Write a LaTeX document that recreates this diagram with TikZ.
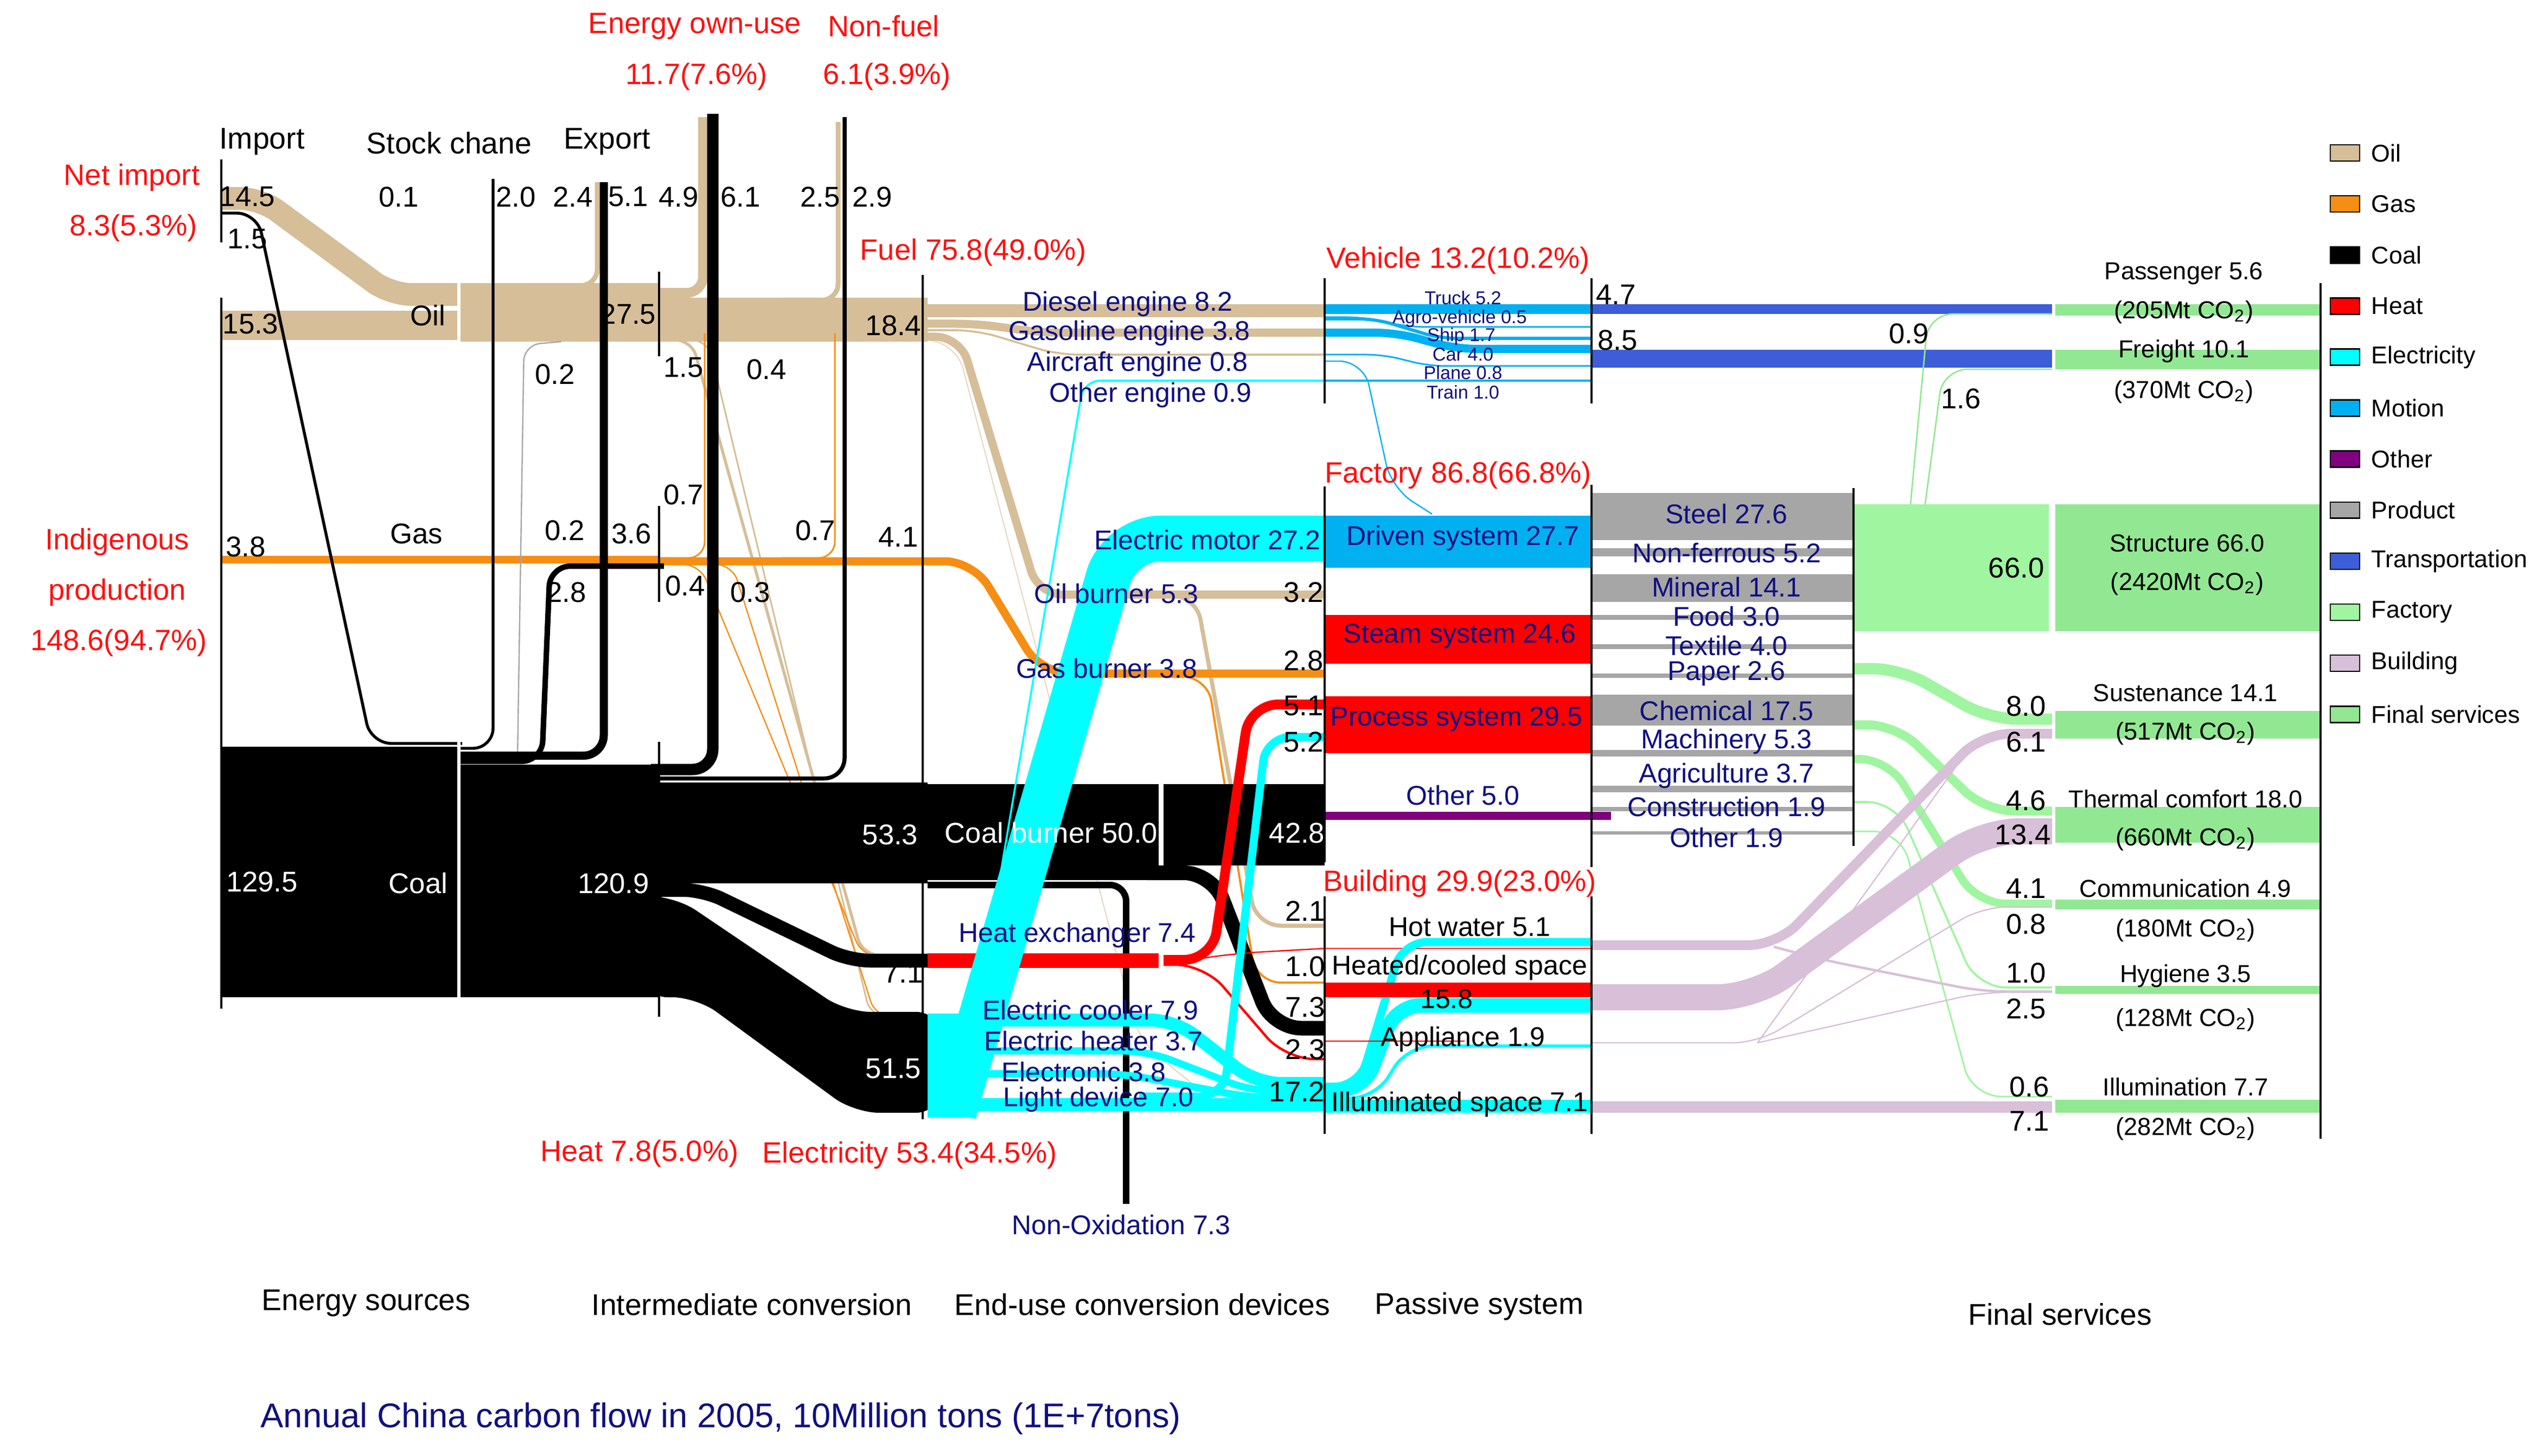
\documentclass[tikz,border=0pt]{standalone}
\usepackage{fontspec}
\setmainfont{Liberation Sans}
\usepackage{xcolor}
\usepackage{tikz}
\usetikzlibrary{positioning}
\definecolor{oilc}{RGB}{214,190,152}
\definecolor{gasc}{RGB}{246,142,20}
\definecolor{heatc}{RGB}{255,0,0}
\definecolor{elecc}{RGB}{0,255,255}
\definecolor{motionc}{RGB}{0,176,240}
\definecolor{otherc}{RGB}{128,0,128}
\definecolor{prodc}{RGB}{166,166,166}
\definecolor{transc}{RGB}{61,94,216}
\definecolor{factc}{RGB}{160,245,160}
\definecolor{buildc}{RGB}{216,192,216}
\definecolor{servc}{RGB}{146,232,146}
\definecolor{navyc}{RGB}{16,16,128}
\definecolor{redc}{RGB}{255,16,16}
\tikzstyle{lab} = [font=\fontsize{10}{12}\selectfont, inner sep=0pt]
\tikzstyle{head} = [font=\fontsize{10.3}{12}\selectfont, inner sep=0pt, text=redc]
\tikzstyle{dev} = [font=\fontsize{9.5}{11}\selectfont, inner sep=0pt, text=navyc]
\tikzstyle{vlab} = [font=\fontsize{6.5}{7}\selectfont, inner sep=0pt, text=navyc]
\tikzstyle{serv} = [font=\fontsize{8.6}{10}\selectfont, inner sep=0pt]
\tikzstyle{stage} = [font=\fontsize{10.5}{12}\selectfont, inner sep=0pt]
\tikzstyle{legtext} = [font=\fontsize{8.5}{10}\selectfont, inner sep=0pt, anchor=west]
\tikzstyle{swatch} = [draw=black, line width=0.5pt, minimum width=0.36cm, minimum height=0.2cm, inner sep=0pt]
\tikzstyle{colline} = [line width=0.75pt]
\tikzset{band/.style={line width=#1*0.02cm}}
\begin{document}
\begin{tikzpicture}[x=0.02cm, y=-0.02cm]
\useasboundingbox (0,0) rectangle (1559,895);
\fill[white] (0,0) rectangle (1559,895);
% oil
\draw[oilc, band=14, rounded corners=0.25cm] (136,122) -- (160,122) -- (240,181) -- (284,181);
\fill[oilc] (136,191) rectangle (282,209);
\fill[oilc] (282,174) rectangle (405,210);
\draw[oilc, band=3, rounded corners=0.2cm] (330,175.5) -- (367,175.5) -- (367,112);
\draw[oilc, band=6, rounded corners=0.2cm] (400,180) -- (432,180) -- (432,72);
\fill[oilc] (405,183) rectangle (570,210);
\draw[oilc, band=3, rounded corners=0.2cm] (480,184.5) -- (515,184.5) -- (515,75);
\draw[oilc, band=1.8, rounded corners=0.2cm] (405,209) -- (425,209) -- (530,587) -- (570,587);
\draw[oilc, band=1, rounded corners=0.2cm] (415,209) -- (435,209) -- (535,625) -- (570,625);
\fill[oilc] (570,187) rectangle (814,195);
\draw[oilc, band=5, rounded corners=0.25cm] (568,199) -- (600,199) -- (640,204.5) -- (814,204.5);
\draw[oilc, band=1.2, rounded corners=0.25cm] (568,203) -- (600,203) -- (650,218) -- (814,218);
\draw[oilc!60, band=0.7, rounded corners=0.3cm] (570,209) -- (588,212) -- (700,640) -- (735,668);
\draw[oilc, band=5, rounded corners=0.3cm] (566,207) -- (590,207) -- (638,365.5) -- (814,365.5);
\draw[oilc, band=2.5, rounded corners=0.3cm] (690,366) -- (735,366) -- (772,569) -- (814,569);
% gas
\draw[gasc, band=4.5] (136,344) -- (405,344);
\draw[gasc, band=1, rounded corners=0.2cm] (405,343) -- (433,343) -- (433,205);
\draw[gasc, band=1, rounded corners=0.2cm] (480,343) -- (513,343) -- (513,205);
\draw[gasc, band=5, rounded corners=0.35cm] (405,345) -- (598,345) -- (640,414) -- (814,414);
\draw[gasc, band=1.3, rounded corners=0.3cm] (715,416) -- (742,416) -- (772,604) -- (814,604);
\draw[gasc, band=0.8, rounded corners=0.2cm] (405,347) -- (430,347) -- (530,588) -- (570,588);
\draw[gasc, band=0.8, rounded corners=0.2cm] (430,347) -- (450,347) -- (538,625) -- (570,625);
% coal
\draw[black!35, band=0.8, rounded corners=0.2cm] (345,210) -- (322,212) -- (318,466);
\draw[band=1.8, rounded corners=0.25cm] (136,131) -- (158,131) -- (228,457) -- (284,457);
\draw[band=1.8, rounded corners=0.25cm] (280,460) -- (303,460) -- (303,110);
\draw[band=5, rounded corners=0.25cm] (280,464.5) -- (371,464.5) -- (371,112);
\draw[band=3.4, rounded corners=0.25cm] (280,468) -- (333,468) -- (338,348) -- (408,348);
\draw[band=7, rounded corners=0.25cm] (400,473) -- (438,473) -- (438,70);
\draw[band=2.5, rounded corners=0.25cm] (400,478.5) -- (519,478.5) -- (519,72);
\fill (136,459) rectangle (282,613);
\fill (282,470) rectangle (405,613);
\fill (405,481) rectangle (570,543);
\draw[band=8.5, rounded corners=0.25cm] (398,547) -- (432,547) -- (522,590.5) -- (574,590.5);
\fill[rounded corners=0.3cm] (395,551) -- (415,551) -- (520,622) -- (578,622) -- (578,684) -- (525,684) -- (428,613) -- (395,613) -- cycle;
\fill[elecc] (570,623) rectangle (600,687);
\fill (570,482) rectangle (712,541);
\fill (715,482) rectangle (814,532);
\draw[band=9, rounded corners=0.35cm] (705,536.5) -- (745,536.5) -- (782,632) -- (814,632);
\draw[band=4, rounded corners=0.2cm] (570,544) -- (692,544) -- (692,740);
% heat
\fill[heatc] (570,586) rectangle (712,595);
\draw[heatc, band=6, rounded corners=0.35cm] (715,590) -- (745,590) -- (768,433) -- (814,433);
\draw[heatc, band=1.5, rounded corners=0.35cm] (715,593) -- (740,593) -- (790,651) -- (814,651);
\draw[heatc, band=0.8, rounded corners=0.3cm] (725,591) -- (760,586) -- (814,583);
% electricity
\draw[elecc, band=28, rounded corners=0.5cm] (586,684) -- (688,331) -- (814,331);
\draw[elecc, band=1.2, rounded corners=0.2cm] (600,625) -- (666,234) -- (814,234);
\draw[elecc, band=8, rounded corners=0.3cm] (598,627) -- (722,627) -- (772,666) -- (814,666);
\draw[elecc, band=4.4, rounded corners=0.3cm] (598,646) -- (705,646) -- (770,671) -- (814,671);
\draw[elecc, band=4.5, rounded corners=0.3cm] (598,660) -- (690,660) -- (770,675) -- (814,675);
\fill[elecc] (598,675) rectangle (814,683);
\draw[elecc, band=5, rounded corners=0.3cm] (700,674) -- (752,674) -- (778,453) -- (814,453);
% vehicle
\fill[motionc] (814,187) rectangle (978,193);
\draw[motionc, band=1, rounded corners=0.2cm] (814,195) -- (838,195) -- (866,201) -- (978,201);
\draw[motionc, band=2, rounded corners=0.2cm] (814,196) -- (845,196) -- (885,208) -- (978,208);
\draw[motionc, band=5, rounded corners=0.25cm] (814,204.5) -- (858,204.5) -- (895,214.5) -- (978,214.5);
\draw[motionc, band=1, rounded corners=0.2cm] (814,218) -- (850,218) -- (878,225) -- (978,225);
\draw[motionc, band=1.2] (814,234) -- (978,234);
\draw[motionc, band=0.8, rounded corners=0.3cm] (814,222) -- (838,222) -- (855,300) -- (880,316);
\fill[transc] (978,187) rectangle (1261,193);
\fill[transc] (978,215) rectangle (1261,226);
\fill[servc] (1263,187) rectangle (1426,194);
\fill[servc] (1263,215) rectangle (1426,227);
% factory
\fill[motionc] (814,317) rectangle (978,349);
\fill[heatc] (814,378) rectangle (978,408);
\fill[heatc] (814,428) rectangle (978,463);
\fill[otherc] (814,499) rectangle (990,504);
\fill[prodc] (978,303) rectangle (1139,332);
\fill[prodc] (978,337) rectangle (1139,342);
\fill[prodc] (978,353) rectangle (1139,370);
\fill[prodc] (978,378) rectangle (1139,381);
\fill[prodc] (978,396) rectangle (1139,399);
\fill[prodc] (978,414) rectangle (1139,416.5);
\fill[prodc] (978,427) rectangle (1139,446);
\fill[prodc] (978,461) rectangle (1139,465);
\fill[prodc] (978,483) rectangle (1139,487);
\fill[prodc] (978,496) rectangle (1139,498.5);
\fill[prodc] (978,511) rectangle (1139,513);
\fill[factc] (1139,310) rectangle (1259,388);
\fill[servc] (1263,310) rectangle (1426,388);
\draw[servc, band=0.9, rounded corners=0.3cm] (1174,310) -- (1185,193) -- (1261,193);
\draw[servc, band=0.9, rounded corners=0.3cm] (1183,310) -- (1194,227) -- (1261,227);
\draw[factc, band=7, rounded corners=0.35cm] (1139,411) -- (1168,411) -- (1222,442) -- (1261,442);
\draw[factc, band=5.5, rounded corners=0.35cm] (1139,445.5) -- (1165,445.5) -- (1220,498.5) -- (1261,498.5);
\draw[factc, band=5, rounded corners=0.35cm] (1139,466.5) -- (1160,466.5) -- (1215,555.5) -- (1261,555.5);
\draw[factc, band=1.2, rounded corners=0.35cm] (1139,493) -- (1165,493) -- (1215,607) -- (1261,607);
\draw[factc, band=1, rounded corners=0.35cm] (1139,511) -- (1168,511) -- (1212,674) -- (1261,674);
% building
\draw[heatc, band=0.8] (814,583) -- (978,583);
\draw[elecc, band=5, rounded corners=0.3cm] (814,668) -- (835,668) -- (862,579) -- (978,579);
\fill[heatc] (814,604) rectangle (978,613);
\draw[elecc, band=9, rounded corners=0.3cm] (814,670) -- (838,670) -- (858,618) -- (978,618);
\draw[heatc, band=0.8] (814,640) -- (900,640);
\draw[elecc, band=2, rounded corners=0.3cm] (814,675) -- (845,675) -- (865,643) -- (978,643);
\fill[elecc] (814,676) rectangle (978,684);
\draw[buildc, band=6, rounded corners=0.35cm] (978,581) -- (1092,581) -- (1218,451) -- (1261,451);
\draw[buildc, band=1.5, rounded corners=0.3cm] (1090,582) -- (1120,590) -- (1218,609.5) -- (1261,609.5);
\draw[buildc, band=16, rounded corners=0.45cm] (978,613) -- (1078,613) -- (1218,511) -- (1261,511);
\draw[buildc, band=0.8, rounded corners=0.3cm] (978,641) -- (1080,641) -- (1218,557.5) -- (1261,557.5);
\draw[buildc, band=0.8, rounded corners=0.3cm] (1080,641) -- (1218,449) -- (1261,449);
\draw[buildc, band=0.8, rounded corners=0.3cm] (1080,641) -- (1218,610) -- (1261,610);
\fill[buildc] (978,677) rectangle (1261,684);
\fill[servc] (1263,437) rectangle (1426,454);
\fill[servc] (1263,496) rectangle (1426,518);
\fill[servc] (1263,553) rectangle (1426,559);
\fill[servc] (1263,606) rectangle (1426,611);
\fill[servc] (1263,676) rectangle (1426,684);
% columns
\draw[white, line width=1pt] (282,170) -- (282,214);
\draw[white, line width=1pt] (282,455) -- (282,616);
\draw[colline] (136,98) -- (136,149);
\draw[colline] (136,183) -- (136,620);
\draw[colline] (405,167) -- (405,219);
\draw[colline] (405,311) -- (405,370);
\draw[colline] (405,456) -- (405,625);
\draw[colline] (567,169) -- (567,688);
\draw[colline] (814,171) -- (814,248);
\draw[colline] (978,171) -- (978,248);
\draw[colline] (814,299) -- (814,530);
\draw[colline] (978,298) -- (978,533);
\draw[colline] (814,551) -- (814,697);
\draw[colline] (978,551) -- (978,697);
\draw[colline] (1139,300) -- (1139,520);
\draw[colline] (1426,174) -- (1426,700);
% labels
\node (Net import)[head] at (81,109) {Net import};
\node (Net import share)[head] at (82,140) {8.3(5.3\%)};
\node (Indigenous)[head] at (72,333) {Indigenous};
\node (Production)[head] at (72,364) {production};
\node (Production share)[head] at (73,395) {148.6(94.7\%)};
\node (Energy own-use)[head] at (427,16) {Energy own-use};
\node (Own-use share)[head] at (428,47) {11.7(7.6\%)};
\node (Non-fuel)[head] at (543,16) {Non-fuel};
\node (Non-fuel share)[head] at (545,47) {6.1(3.9\%)};
\node (Fuel)[head] at (598,155) {Fuel 75.8(49.0\%)};
\node (Heat)[head] at (393,709) {Heat 7.8(5.0\%)};
\node (Electricity)[head] at (559,710) {Electricity 53.4(34.5\%)};
\node (Vehicle)[head] at (896,160) {Vehicle 13.2(10.2\%)};
\node (Factory)[head] at (896,292) {Factory 86.8(66.8\%)};
\node (Building)[head] at (897,543) {Building 29.9(23.0\%)};
\node (Import)[stage] at (161,87) {Import};
\node (Stock change)[stage] at (276,88) {Stock chane};
\node (Export)[stage] at (373,87) {Export};
\node (Import Oil)[lab] at (152,121) {14.5};
\node (Import Coal)[lab] at (152,147) {1.5};
\node (Home Oil)[lab] at (154,199) {15.3};
\node (Oil Stock)[lab] at (245,121) {0.1};
\node (Oil)[lab] at (263,194) {Oil};
\node (Coal Stock)[lab] at (317,121) {2.0};
\node (Oil Export)[lab] at (352,121) {2.4};
\node (Coal Export)[lab] at (386,121) {5.1};
\node (Oil Own)[lab] at (417,121) {4.9};
\node (Coal Own)[lab] at (455,121) {6.1};
\node (Oil Nonfuel)[lab] at (504,121) {2.5};
\node (Coal Nonfuel)[lab] at (536,121) {2.9};
\node (Oil Mid)[lab] at (386,193) {27.5};
\node (Oil Fuel)[lab] at (549,200) {18.4};
\node (Oil To Coal)[lab] at (341,230) {0.2};
\node (Oil To Heat)[lab] at (420,226) {1.5};
\node (Oil To Elec)[lab] at (471,227) {0.4};
\node (Gas Own)[lab] at (420,304) {0.7};
\node (Gas)[lab] at (256,328) {Gas};
\node (Home Gas)[lab] at (151,336) {3.8};
\node (Gas Stock)[lab] at (347,326) {0.2};
\node (Gas Mid)[lab] at (388,328) {3.6};
\node (Gas Nonfuel)[lab] at (501,326) {0.7};
\node (Gas Fuel)[lab] at (552,330) {4.1};
\node (Coal To Gas)[lab] at (348,364) {2.8};
\node (Gas To Heat)[lab] at (421,360) {0.4};
\node (Gas To Elec)[lab] at (461,364) {0.3};
\node (Home Coal)[lab, text=white] at (161,542) {129.5};
\node (Coal)[lab, text=white] at (257,543) {Coal};
\node (Coal Mid)[lab, text=white] at (377,543) {120.9};
\node (Coal Fuel)[lab, text=white] at (547,513) {53.3};
\node (Coal To Heat)[lab] at (555,598) {7.1};
\node (Coal To Elec)[lab, text=white] at (549,657) {51.5};
\node (Coal burner)[lab, text=white] at (646,512) {Coal burner 50.0};
\node (Coal Factory)[lab, text=white] at (797,512) {42.8};
\node (Diesel engine)[dev] at (693,187) {Diesel engine 8.2};
\node (Gasoline engine)[dev] at (694,205) {Gasoline engine 3.8};
\node (Aircraft engine)[dev] at (699,224) {Aircraft engine 0.8};
\node (Other engine)[dev] at (707,243) {Other engine 0.9};
\node (Electric motor)[dev] at (742,332) {Electric motor 27.2};
\node (Oil burner)[dev] at (686,365) {Oil burner 5.3};
\node (Gas burner)[dev] at (680,411) {Gas burner 3.8};
\node (Heat exchanger)[dev] at (662,575) {Heat exchanger 7.4};
\node (Electric cooler)[dev] at (670,621) {Electric cooler 7.9};
\node (Electric heater)[dev] at (672,640) {Electric heater 3.7};
\node (Electronic)[dev] at (666,659) {Electronic 3.8};
\node (Light device)[dev] at (675,676) {Light device 7.0};
\node (Non-Oxidation)[dev] at (689,753) {Non-Oxidation 7.3};
\node (Oil Factory)[lab] at (801,364) {3.2};
\node (Gas Factory)[lab] at (801,406) {2.8};
\node (Heat Factory)[lab] at (801,434) {5.1};
\node (Elec Factory)[lab] at (801,456) {5.2};
\node (Oil Building)[lab] at (802,560) {2.1};
\node (Gas Building)[lab] at (802,594) {1.0};
\node (Coal Building)[lab] at (802,619) {7.3};
\node (Heat Building)[lab] at (802,645) {2.3};
\node (Elec Building)[lab] at (797,671) {17.2};
\node (Truck)[vlab] at (899,183) {Truck 5.2};
\node (Agro-vehicle)[vlab] at (897,196) {Agro-vehicle 0.5};
\node (Ship)[vlab] at (898,207) {Ship 1.7};
\node (Car)[vlab] at (899,218) {Car 4.0};
\node (Plane)[vlab] at (899,229) {Plane 0.8};
\node (Train)[vlab] at (899,241) {Train 1.0};
\node (Passenger Flow)[lab] at (993,181) {4.7};
\node (Freight Flow)[lab] at (994,209) {8.5};
\node (Passenger Factory)[lab] at (1173,205) {0.9};
\node (Freight Factory)[lab] at (1205,245) {1.6};
\node (Driven system)[dev] at (899,331) {Driven system 27.7};
\node (Steam system)[dev] at (897,391) {Steam system 24.6};
\node (Process system)[dev] at (895,442) {Process system 29.5};
\node (Other system)[dev] at (899,489) {Other 5.0};
\node (Hot water)[dev, text=black] at (903,570) {Hot water 5.1};
\node (Heated space)[dev, text=black] at (897,595) {Heated/cooled space};
\node (Heated value)[dev, text=black] at (889,614) {15.8};
\node (Appliance)[dev, text=black] at (899,639) {Appliance 1.9};
\node (Illuminated space)[dev, text=black] at (897,679) {Illuminated space 7.1};
\node (Steel)[dev] at (1061,316) {Steel 27.6};
\node (Non-ferrous)[dev] at (1061,340) {Non-ferrous 5.2};
\node (Mineral)[dev] at (1061,361) {Mineral 14.1};
\node (Food)[dev] at (1061,379) {Food 3.0};
\node (Textile)[dev] at (1061,397) {Textile 4.0};
\node (Paper)[dev] at (1061,414) {Paper 2.6};
\node (Chemical)[dev] at (1061,437) {Chemical 17.5};
\node (Machinery)[dev] at (1061,456) {Machinery 5.3};
\node (Agriculture)[dev] at (1061,477) {Agriculture 3.7};
\node (Construction)[dev] at (1061,496) {Construction 1.9};
\node (Other product)[dev] at (1061,515) {Other 1.9};
\node (Structure Flow)[lab] at (1239,349) {66.0};
\node (Sustenance Factory)[lab] at (1245,434) {8.0};
\node (Sustenance Building)[lab] at (1245,456) {6.1};
\node (Thermal Factory)[lab] at (1245,492) {4.6};
\node (Thermal Building)[lab] at (1243,513) {13.4};
\node (Communication Factory)[lab] at (1245,546) {4.1};
\node (Communication Building)[lab] at (1245,568) {0.8};
\node (Hygiene Factory)[lab] at (1245,598) {1.0};
\node (Hygiene Building)[lab] at (1245,620) {2.5};
\node (Illumination Factory)[lab] at (1247,668) {0.6};
\node (Illumination Building)[lab] at (1247,689) {7.1};
\node (Passenger)[serv] at (1342,168) {Passenger 5.6};
\node (Passenger CO2)[serv] at (1342,192) {(205Mt CO\textsubscript{2})};
\node (Freight)[serv] at (1342,216) {Freight 10.1};
\node (Freight CO2)[serv] at (1342,241) {(370Mt CO\textsubscript{2})};
\node (Structure)[serv] at (1344,334) {Structure 66.0};
\node (Structure CO2)[serv] at (1344,359) {(2420Mt CO\textsubscript{2})};
\node (Sustenance)[serv] at (1343,426) {Sustenance 14.1};
\node (Sustenance CO2)[serv] at (1343,451) {(517Mt CO\textsubscript{2})};
\node (Thermal comfort)[serv] at (1343,491) {Thermal comfort 18.0};
\node (Thermal CO2)[serv] at (1343,516) {(660Mt CO\textsubscript{2})};
\node (Communication)[serv] at (1343,546) {Communication 4.9};
\node (Communication CO2)[serv] at (1343,572) {(180Mt CO\textsubscript{2})};
\node (Hygiene)[serv] at (1343,600) {Hygiene 3.5};
\node (Hygiene CO2)[serv] at (1343,627) {(128Mt CO\textsubscript{2})};
\node (Illumination)[serv] at (1343,668) {Illumination 7.7};
\node (Illumination CO2)[serv] at (1343,694) {(282Mt CO\textsubscript{2})};
\node (Oil Key)[swatch, fill=oilc] at (1441,94) {};
\node (Oil Entry)[legtext, right=0.13cm of Oil Key] {Oil};
\node (Gas Key)[swatch, fill=gasc, below=0.41cm of Oil Key] {};
\node (Gas Entry)[legtext, right=0.13cm of Gas Key] {Gas};
\node (Coal Key)[swatch, fill=black, below=0.41cm of Gas Key] {};
\node (Coal Entry)[legtext, right=0.13cm of Coal Key] {Coal};
\node (Heat Key)[swatch, fill=heatc, below=0.41cm of Coal Key] {};
\node (Heat Entry)[legtext, right=0.13cm of Heat Key] {Heat};
\node (Electricity Key)[swatch, fill=elecc, below=0.41cm of Heat Key] {};
\node (Electricity Entry)[legtext, right=0.13cm of Electricity Key] {Electricity};
\node (Motion Key)[swatch, fill=motionc, below=0.41cm of Electricity Key] {};
\node (Motion Entry)[legtext, right=0.13cm of Motion Key] {Motion};
\node (Other Key)[swatch, fill=otherc, below=0.41cm of Motion Key] {};
\node (Other Entry)[legtext, right=0.13cm of Other Key] {Other};
\node (Product Key)[swatch, fill=prodc, below=0.41cm of Other Key] {};
\node (Product Entry)[legtext, right=0.13cm of Product Key] {Product};
\node (Transportation Key)[swatch, fill=transc, below=0.41cm of Product Key] {};
\node (Transportation Entry)[legtext, right=0.13cm of Transportation Key] {Transportation};
\node (Factory Key)[swatch, fill=factc, below=0.41cm of Transportation Key] {};
\node (Factory Entry)[legtext, right=0.13cm of Factory Key] {Factory};
\node (Building Key)[swatch, fill=buildc, below=0.41cm of Factory Key] {};
\node (Building Entry)[legtext, right=0.13cm of Building Key] {Building};
\node (Services Key)[swatch, fill=servc, below=0.41cm of Building Key] {};
\node (Services Entry)[legtext, right=0.13cm of Services Key] {Final services};
\node (Energy sources)[stage] at (225,801) {Energy sources};
\node (Intermediate conversion)[stage] at (462,802) {Intermediate conversion};
\node (End-use devices)[stage] at (702,802) {End-use conversion devices};
\node (Passive system)[stage] at (909,803) {Passive system};
\node (Final services)[stage] at (1266,808) {Final services};
\node (Title)[font=\fontsize{12}{14}\selectfont, text=navyc, inner sep=0pt] at (443,872) {Annual China carbon flow in 2005, 10Million tons (1E+7tons)};
\end{tikzpicture}
\end{document}
